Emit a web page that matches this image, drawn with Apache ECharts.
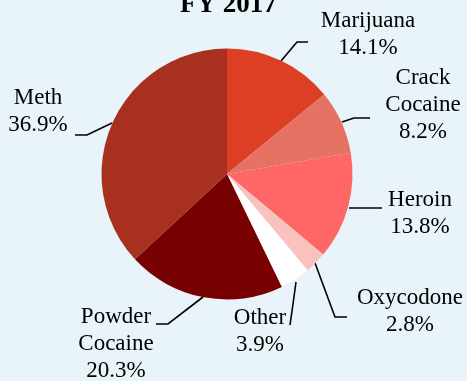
<!DOCTYPE html>
<html><head><meta charset="utf-8">
<script src="https://cdn.jsdelivr.net/npm/echarts@6/dist/echarts.min.js"></script>
<style>html,body{margin:0;padding:0;background:#e8f4f9}#c{width:467px;height:381px}</style>
</head><body><div id="c"></div>
<script>
const categories = ['Marijuana', 'Crack Cocaine', 'Heroin', 'Oxycodone', 'Other', 'Powder Cocaine', 'Meth'];
const shares = [14.1, 8.2, 13.8, 2.8, 3.9, 20.3, 36.9];
const colors = ['#dc3f24', '#e57262', '#ff6666', '#f9c2be', '#ffffff', '#780000', '#a8301e'];
const titleText = 'FY 2017';
// label layout: block centres and leader-line routes (annotation layout only)
const labelCenters = [[368, 34], [423, 105], [420, 213], [410, 311], [260, 331], [116, 344], [38, 111]];
const leaderRoutes = [
  [[281, 61], [297, 42], [308, 42]],
  [[342, 122], [354, 118], [370, 118]],
  [[349, 208], [365, 208], [382, 208]],
  [[315, 263], [335, 317], [347, 317]],
  [[296, 282], [293, 304], [290, 325]],
  [[203, 297], [168, 324], [156, 324]],
  [[112, 123], [87, 135], [75, 135]]
];

const chart = echarts.init(document.getElementById('c'), null, {renderer: 'canvas'});
chart.setOption({
  backgroundColor: '#e8f4f9',
  animation: false,
  title: {
    text: titleText, left: 175, top: -13,
    textStyle: {fontFamily: 'Liberation Serif', fontWeight: 'bold', fontSize: 27, color: '#000'}
  },
  series: [{
    type: 'pie',
    center: [227, 174],
    radius: 125.5,
    startAngle: 90,
    clockwise: true,
    avoidLabelOverlap: false,
    data: categories.map((c, i) => ({name: c, value: shares[i], itemStyle: {color: colors[i]}})),
    label: {
      show: true, position: 'outside',
      formatter: p => p.name.split(' ').join('\n') + '\n' + p.value.toFixed(1) + '%',
      fontFamily: 'Liberation Serif', fontSize: 23, lineHeight: 27, color: '#000'
    },
    labelLine: {show: true, length: 10, length2: 12, lineStyle: {color: '#000', width: 1.6}},
    labelLayout: p => ({
      x: labelCenters[p.dataIndex][0], y: labelCenters[p.dataIndex][1],
      align: 'center', verticalAlign: 'middle',
      labelLinePoints: leaderRoutes[p.dataIndex]
    }),
    emphasis: {disabled: true}
  }]
});
</script></body></html>
